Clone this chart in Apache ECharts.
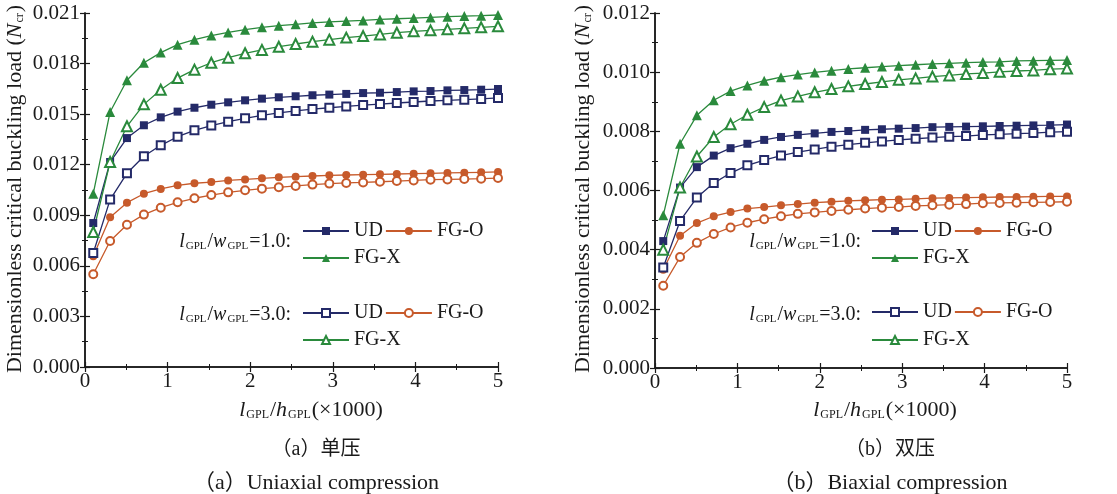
<!DOCTYPE html>
<html>
<head>
<meta charset="utf-8">
<script src="https://cdn.jsdelivr.net/npm/echarts/dist/echarts.min.js"></script>
<style>
  html, body { margin: 0; background: #fff; }
  #chart { width: 1117px; height: 494px; }
</style>
</head>
<body>
<div id="chart"></div>
<script>
// x positions: l_GPL/h_GPL (x1000)
const xVals = [0.1, 0.304, 0.508, 0.713, 0.917, 1.121, 1.325, 1.529, 1.733, 1.938, 2.142, 2.346, 2.55,
  2.754, 2.958, 3.163, 3.367, 3.571, 3.775, 3.979, 4.183, 4.388, 4.592, 4.796, 5.0];

// (a) uniaxial compression
const uniUD10 = [0.00854, 0.01216, 0.01358, 0.01434, 0.01481, 0.01515, 0.01538, 0.01556, 0.0157, 0.01582, 0.01592, 0.016, 0.01606,
  0.01612, 0.01616, 0.0162, 0.01625, 0.01627, 0.01631, 0.01635, 0.01637, 0.01641, 0.01643, 0.01645, 0.01649];
const uniFGO10 = [0.00657, 0.00888, 0.00975, 0.01028, 0.01056, 0.01078, 0.0109, 0.01097, 0.01107, 0.01113, 0.01119, 0.01125, 0.01129,
  0.01133, 0.01137, 0.01139, 0.01141, 0.01143, 0.01145, 0.01147, 0.01149, 0.01151, 0.01153, 0.01155, 0.01157];
const uniFGX10 = [0.01028, 0.01513, 0.01701, 0.01805, 0.01865, 0.01912, 0.01942, 0.01966, 0.01985, 0.02001, 0.02015, 0.02025, 0.02033,
  0.02041, 0.02047, 0.02052, 0.02056, 0.02062, 0.02066, 0.0207, 0.02074, 0.02078, 0.02082, 0.02084, 0.02088];
const uniUD30 = [0.00676, 0.00993, 0.01149, 0.0125, 0.01315, 0.01366, 0.01404, 0.01432, 0.01455, 0.01475, 0.01493, 0.01507, 0.01519,
  0.0153, 0.01538, 0.01546, 0.01554, 0.0156, 0.01566, 0.01572, 0.01578, 0.01582, 0.01586, 0.0159, 0.01596];
const uniFGO30 = [0.0055, 0.00747, 0.00844, 0.00904, 0.00945, 0.00977, 0.01001, 0.0102, 0.01036, 0.01048, 0.01058, 0.01066, 0.01074,
  0.01082, 0.01088, 0.01092, 0.01095, 0.01099, 0.01103, 0.01107, 0.01111, 0.01113, 0.01115, 0.01117, 0.01121];
const uniFGX30 = [0.00801, 0.01216, 0.01428, 0.01558, 0.01645, 0.01714, 0.01764, 0.01805, 0.01835, 0.01861, 0.01881, 0.019, 0.01916,
  0.0193, 0.01942, 0.01954, 0.01963, 0.01973, 0.01983, 0.01991, 0.01997, 0.02003, 0.02009, 0.02015, 0.02021];

// (b) biaxial compression
const biUD10 = [0.00429, 0.0061, 0.00679, 0.00718, 0.00743, 0.00758, 0.00771, 0.00781, 0.00788, 0.00793, 0.00798, 0.00801, 0.00805,
  0.00807, 0.00809, 0.00811, 0.00814, 0.00815, 0.00816, 0.00817, 0.00818, 0.00819, 0.0082, 0.00821, 0.00823];
const biFGO10 = [0.00332, 0.00447, 0.0049, 0.00513, 0.00527, 0.00539, 0.00544, 0.0055, 0.00554, 0.00559, 0.00562, 0.00565, 0.00567,
  0.00569, 0.0057, 0.00572, 0.00574, 0.00575, 0.00576, 0.00577, 0.00578, 0.00578, 0.00579, 0.0058, 0.0058];
const biFGX10 = [0.00516, 0.00758, 0.00854, 0.00905, 0.00936, 0.00955, 0.00971, 0.00983, 0.00992, 0.00999, 0.01005, 0.01011, 0.01015,
  0.01019, 0.01022, 0.01025, 0.01028, 0.0103, 0.01032, 0.01034, 0.01035, 0.01038, 0.01039, 0.0104, 0.01041];
const biUD30 = [0.0034, 0.00497, 0.00576, 0.00625, 0.00659, 0.00685, 0.00703, 0.00718, 0.0073, 0.00739, 0.00748, 0.00755, 0.00761,
  0.00766, 0.00771, 0.00775, 0.00779, 0.00782, 0.00784, 0.00788, 0.0079, 0.00792, 0.00794, 0.00797, 0.00799];
const biFGO30 = [0.00278, 0.00375, 0.00423, 0.00453, 0.00475, 0.00491, 0.00503, 0.00513, 0.00521, 0.00526, 0.00531, 0.00535, 0.00539,
  0.00542, 0.00544, 0.00548, 0.0055, 0.00552, 0.00554, 0.00557, 0.00558, 0.00559, 0.0056, 0.00561, 0.00562];
const biFGX30 = [0.004, 0.0061, 0.00715, 0.00781, 0.00824, 0.00856, 0.00882, 0.00904, 0.00918, 0.00932, 0.00943, 0.00952, 0.0096,
  0.00967, 0.00974, 0.00979, 0.00985, 0.00989, 0.00994, 0.00997, 0.01001, 0.01004, 0.01006, 0.0101, 0.01012];

const xTicks = [0, 1, 2, 3, 4, 5];
const captionsCN = ["（a）单压", "（b）双压"];
const captionsEN = ["（a）Uniaxial compression", "（b）Biaxial compression"];

const FONT = "'Liberation Serif', 'Times New Roman', 'Noto Sans CJK SC', serif";
const INK = "#1a1a1a";
const C_UD = "#242a68";
const C_FGO = "#c75a2b";
const C_FGX = "#2a8a3c";

const chart = echarts.init(document.getElementById("chart"));

const rich = {
  i: { fontFamily: FONT, fontSize: 20, fontStyle: "italic", color: INK },
  s: { fontFamily: FONT, fontSize: 11, color: INK, verticalAlign: "bottom", padding: [0, 1, 0, 1] },
  n: { fontFamily: FONT, fontSize: 20, color: INK },
  I: { fontFamily: FONT, fontSize: 22, fontStyle: "italic", color: INK },
  S: { fontFamily: FONT, fontSize: 12, color: INK, verticalAlign: "bottom", padding: [0, 1, 0, 1] },
  N: { fontFamily: FONT, fontSize: 22, color: INK },
};

function pairs(arr) {
  return xVals.map((x, i) => [x, arr[i]]);
}

// one panel: grid index, grid box, y range, series arrays, legend/text positions
function panel(gi, box, yMax, yStep, data, pos) {
  const tick = { inside: true, length: 5, lineStyle: { color: INK, width: 1.2 } };
  const minor = { show: true, splitNumber: 2, length: 3, lineStyle: { color: INK, width: 1 } };
  const line = { lineStyle: { color: INK, width: 1.5 } };
  const xa = [
    {
      gridIndex: gi, type: "value", min: xTicks[0], max: xTicks[xTicks.length - 1], interval: 1,
      position: "bottom", axisLine: line, axisTick: tick, minorTick: minor, splitLine: { show: false },
      axisLabel: { fontFamily: FONT, fontSize: 21, color: INK, margin: 4 },
    },
    {
      gridIndex: gi, type: "value", min: xTicks[0], max: xTicks[xTicks.length - 1], interval: 1,
      position: "top", axisLine: line, axisTick: tick, minorTick: minor, splitLine: { show: false },
      axisLabel: { show: false },
    },
  ];
  const ya = [
    {
      gridIndex: gi, type: "value", min: 0, max: yMax, interval: yStep,
      position: "left", axisLine: { show: true, ...line }, axisTick: tick, minorTick: minor, splitLine: { show: false },
      axisLabel: { fontFamily: FONT, fontSize: 21, color: INK, margin: 5, formatter: (v) => v.toFixed(3) },
    },
    {
      gridIndex: gi, type: "value", min: 0, max: yMax, interval: yStep,
      position: "right", axisLine: { show: true, ...line }, axisTick: tick, minorTick: minor, splitLine: { show: false },
      axisLabel: { show: false },
    },
  ];
  const defs = [
    ["UD", "1.0", data[0], "rect", 8, C_UD],
    ["FG-O", "1.0", data[1], "circle", 8, C_FGO],
    ["FG-X", "1.0", data[2], "triangle", 10, C_FGX],
    ["UD", "3.0", data[3], "emptyRect", 8, C_UD],
    ["FG-O", "3.0", data[4], "emptyCircle", 8, C_FGO],
    ["FG-X", "3.0", data[5], "emptyTriangle", 10, C_FGX],
  ];
  const series = defs.map(([lab, ratio, arr, sym, size, col]) => ({
    type: "line",
    name: lab + "|" + ratio + "|" + gi,
    xAxisIndex: gi * 2,
    yAxisIndex: gi * 2,
    data: pairs(arr),
    symbol: sym,
    symbolSize: size,
    color: col,
    lineStyle: { width: 1.3, color: col },
    itemStyle: { borderWidth: 1.1 },
    animation: false,
  }));
  const legRow = (names, top) => ({
    left: pos.left, top: top, itemWidth: 46, itemHeight: 10, itemGap: 2, padding: 0,
    selectedMode: false, data: names.map((n) => n + "|" + gi),
    formatter: (n) => n.split("|")[0],
    textStyle: { fontFamily: FONT, fontSize: 20, color: INK, padding: [0, 0, 0, 0] },
  });
  const legends = [
    legRow(["UD|1.0", "FG-O|1.0"], pos.rows[0]),
    legRow(["FG-X|1.0"], pos.rows[1]),
    legRow(["UD|3.0", "FG-O|3.0"], pos.rows[2]),
    legRow(["FG-X|3.0"], pos.rows[3]),
  ];
  const txt = (x, y, text, extra) => ({
    type: "text", x: x, y: y, silent: true,
    style: Object.assign({ text: text, rich: rich, fill: INK, fontFamily: FONT, fontSize: 20, align: "center", verticalAlign: "middle" }, extra || {}),
  });
  const graphics = [
    txt(pos.labelRight, pos.labelY[0], "{i|l}{s|GPL}{n|/}{i|w}{s|GPL}{n|=1.0:}", { align: "right" }),
    txt(pos.labelRight, pos.labelY[1], "{i|l}{s|GPL}{n|/}{i|w}{s|GPL}{n|=3.0:}", { align: "right" }),
    Object.assign(txt(pos.yNameX, 189, "{N|Dimensionless critical buckling load (}{I|N}{S|cr}{N|)}"), { rotation: Math.PI / 2 }),
    txt(pos.xNameX, 410, "{I|l}{S|GPL}{N|/}{I|h}{S|GPL}{N|(×1000)}"),
    txt(pos.capX, 450, captionsCN[gi], { fontSize: 20 }),
    txt(pos.capX, 483, captionsEN[gi], { fontSize: 22 }),
  ];
  return { grid: Object.assign({ containLabel: false }, box), xa, ya, series, legends, graphics };
}

const pa = panel(0, { left: 85, top: 13, width: 413, height: 354 }, 0.021, 0.003,
  [uniUD10, uniFGO10, uniFGX10, uniUD30, uniFGO30, uniFGX30],
  { left: 302, rows: [221, 248, 303, 330], labelRight: 291, labelY: [242, 315], yNameX: 15, xNameX: 311, capX: 316 });
const pb = panel(1, { left: 655, top: 13, width: 412, height: 355 }, 0.012, 0.002,
  [biUD10, biFGO10, biFGX10, biUD30, biFGO30, biFGX30],
  { left: 871, rows: [221, 248, 302, 330], labelRight: 861, labelY: [242, 315], yNameX: 583, xNameX: 885, capX: 890 });

const option = {
  backgroundColor: "#fff",
  animation: false,
  grid: [pa.grid, pb.grid],
  xAxis: [...pa.xa, ...pb.xa],
  yAxis: [...pa.ya, ...pb.ya],
  series: [...pa.series, ...pb.series],
  legend: [...pa.legends, ...pb.legends],
  graphic: [...pa.graphics, ...pb.graphics],
};

chart.setOption(option);
</script>
</body>
</html>
